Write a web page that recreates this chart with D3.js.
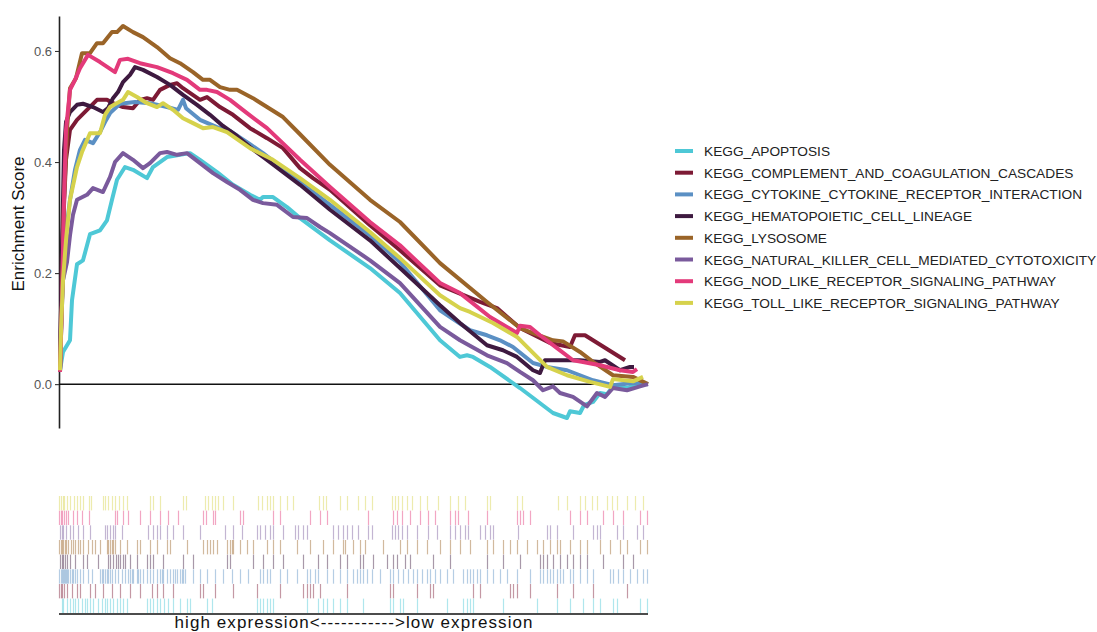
<!DOCTYPE html>
<html>
<head>
<meta charset="utf-8">
<script src="https://cdn.jsdelivr.net/npm/d3@7"></script>
<style>
  body { margin: 0; background: #fff; }
  svg { font-family: "Liberation Sans", Arial, Helvetica, sans-serif; }
</style>
</head>
<body>
<div id="chart"></div>
<script>
// GSEA multi-pathway enrichment plot: running score curves on top, hit rug below.

const pathways = [
  "KEGG_APOPTOSIS",
  "KEGG_COMPLEMENT_AND_COAGULATION_CASCADES",
  "KEGG_CYTOKINE_CYTOKINE_RECEPTOR_INTERACTION",
  "KEGG_HEMATOPOIETIC_CELL_LINEAGE",
  "KEGG_LYSOSOME",
  "KEGG_NATURAL_KILLER_CELL_MEDIATED_CYTOTOXICITY",
  "KEGG_NOD_LIKE_RECEPTOR_SIGNALING_PATHWAY",
  "KEGG_TOLL_LIKE_RECEPTOR_SIGNALING_PATHWAY"
];

const colors = ["#4ec8d6", "#7d1a35", "#5b90c4", "#3e1a40", "#9a6428", "#7a5a9c", "#e33a7a", "#d6d24c"];

const yTicks = [0.0, 0.2, 0.4, 0.6];
const rankMax = 589;

// running enrichment score, [rank, ES]
const esApoptosis = [[1,0.025],[4,0.058],[11,0.079],[13,0.151],[18,0.216],[24,0.223],[31,0.270],[41,0.277],[48,0.295],[53,0.332],[58,0.368],[66,0.391],[74,0.386],[88,0.371],[94,0.391],[108,0.409],[121,0.413],[131,0.416],[141,0.404],[158,0.382],[174,0.359],[191,0.341],[201,0.332],[204,0.337],[214,0.337],[228,0.319],[241,0.299],[271,0.259],[311,0.209],[341,0.164],[381,0.079],[401,0.049],[408,0.052],[414,0.049],[431,0.031],[461,-0.007],[494,-0.052],[508,-0.061],[511,-0.049],[521,-0.052],[525,-0.038],[534,-0.032],[541,-0.016],[548,-0.018],[554,-0.004],[568,-0.007],[581,0.002],[589,0]];
const esComplement = [[1,0.025],[3,0.241],[7,0.404],[11,0.458],[18,0.476],[28,0.494],[38,0.512],[48,0.512],[54,0.506],[64,0.499],[74,0.497],[81,0.512],[88,0.515],[94,0.512],[101,0.530],[111,0.539],[118,0.542],[124,0.533],[141,0.512],[148,0.517],[161,0.499],[174,0.485],[191,0.461],[208,0.443],[224,0.425],[241,0.389],[254,0.371],[271,0.350],[311,0.286],[341,0.241],[381,0.178],[421,0.148],[438,0.137],[461,0.101],[491,0.074],[511,0.067],[516,0.088],[526,0.088],[566,0.043]];
const esCytokine = [[1,0.022],[3,0.151],[6,0.259],[11,0.332],[16,0.386],[21,0.422],[26,0.440],[34,0.434],[41,0.454],[46,0.472],[51,0.488],[61,0.505],[76,0.508],[91,0.506],[108,0.499],[119,0.494],[124,0.512],[127,0.497],[141,0.476],[158,0.463],[171,0.456],[191,0.432],[204,0.416],[241,0.364],[271,0.323],[311,0.268],[341,0.220],[381,0.133],[411,0.097],[428,0.088],[441,0.079],[454,0.067],[474,0.038],[488,0.031],[508,0.025],[534,0.007],[554,-0.002],[574,0.002],[589,0]];
const esHemato = [[1,0.025],[3,0.241],[5,0.422],[7,0.472],[11,0.490],[18,0.503],[24,0.505],[34,0.499],[44,0.490],[49,0.497],[54,0.515],[59,0.526],[64,0.544],[71,0.557],[76,0.571],[84,0.566],[98,0.553],[111,0.539],[124,0.521],[138,0.503],[151,0.485],[164,0.465],[178,0.447],[191,0.427],[204,0.409],[241,0.359],[271,0.314],[311,0.259],[341,0.209],[381,0.142],[401,0.110],[428,0.070],[444,0.061],[458,0.049],[474,0.025],[481,0.020],[486,0.043],[508,0.043],[521,0.043],[541,0.040],[546,0.043],[561,0.025],[571,0.031],[575,0.031]];
const esLysosome = [[1,0.022],[3,0.151],[5,0.332],[8,0.458],[11,0.533],[17,0.551],[23,0.596],[31,0.596],[38,0.614],[44,0.614],[48,0.623],[53,0.634],[58,0.634],[64,0.645],[74,0.634],[84,0.625],[98,0.607],[111,0.587],[121,0.578],[134,0.562],[144,0.548],[151,0.548],[161,0.535],[171,0.530],[178,0.530],[194,0.515],[208,0.499],[224,0.481],[241,0.450],[271,0.395],[311,0.332],[341,0.292],[381,0.218],[428,0.148],[461,0.101],[474,0.092],[494,0.079],[504,0.077],[521,0.058],[534,0.040],[554,0.016],[574,0.013],[589,0]];
const esNK = [[1,0.022],[2,0.097],[4,0.187],[8,0.220],[11,0.268],[14,0.305],[18,0.332],[28,0.341],[34,0.353],[44,0.346],[51,0.373],[56,0.400],[64,0.416],[74,0.404],[84,0.389],[91,0.398],[101,0.416],[108,0.418],[118,0.413],[128,0.416],[141,0.398],[154,0.380],[168,0.364],[181,0.350],[194,0.332],[204,0.326],[218,0.323],[234,0.301],[248,0.299],[261,0.283],[271,0.272],[311,0.223],[341,0.182],[381,0.103],[401,0.079],[428,0.052],[448,0.038],[461,0.022],[474,0.007],[484,-0.011],[494,-0.004],[501,-0.016],[514,-0.023],[528,-0.040],[538,-0.016],[546,-0.023],[554,-0.007],[568,-0.011],[581,-0.004],[589,0]];
const esNOD = [[1,0.022],[3,0.151],[5,0.332],[7,0.458],[11,0.530],[16,0.548],[21,0.569],[29,0.593],[41,0.580],[56,0.562],[61,0.584],[69,0.586],[81,0.578],[98,0.571],[114,0.560],[128,0.548],[141,0.530],[148,0.530],[158,0.526],[171,0.512],[188,0.488],[208,0.461],[241,0.404],[271,0.355],[311,0.292],[341,0.250],[381,0.182],[401,0.164],[431,0.121],[458,0.092],[461,0.105],[471,0.103],[481,0.088],[498,0.065],[514,0.043],[524,0.040],[541,0.034],[561,0.025],[574,0.022],[578,0.027]];
const esToll = [[1,0.025],[2,0.097],[4,0.187],[7,0.259],[11,0.332],[18,0.391],[23,0.418],[31,0.452],[41,0.452],[46,0.485],[51,0.499],[64,0.512],[69,0.526],[78,0.517],[88,0.506],[98,0.499],[104,0.506],[114,0.494],[124,0.479],[134,0.470],[144,0.461],[154,0.463],[168,0.454],[191,0.425],[214,0.404],[241,0.371],[271,0.332],[311,0.274],[341,0.227],[381,0.160],[401,0.137],[411,0.130],[434,0.110],[458,0.085],[468,0.067],[488,0.031],[508,0.016],[531,0.004],[551,-0.005],[554,0.009],[574,0.005],[584,0.013]];

// gene set hit positions (ranks) for the rug
const hitsApoptosis = [3,4,8,11,14,16,19,23,26,28,31,34,39,43,46,48,51,54,58,61,64,68,88,91,94,98,101,105,109,114,121,128,131,148,153,198,201,204,208,211,214,248,259,264,268,274,281,288,304,331,334,341,344,358,388,404,408,411,414,444,478,498,511,524,534,541,554,558,581,588];
const hitsComplement = [0,2,3,5,8,13,18,21,31,36,44,53,61,71,81,93,98,104,114,141,144,156,174,198,221,244,248,251,254,261,288,331,334,358,371,374,414,421,451,454,458,471,498,514,534,568];
const hitsCytokine = [0,2,3,4,5,6,7,8,9,11,13,14,16,18,21,24,29,33,41,43,44,46,48,49,51,53,56,59,63,66,69,71,73,74,78,79,81,84,88,91,94,98,101,103,104,108,111,114,116,118,121,123,124,126,134,141,148,156,164,173,181,189,201,204,208,211,221,228,238,248,251,256,259,268,274,281,288,294,298,301,304,308,313,321,331,334,339,344,349,354,358,363,368,371,376,381,388,394,404,408,411,414,418,421,428,434,441,448,458,471,481,484,488,491,494,498,501,504,511,514,521,528,534,551,554,559,564,571,578,584,588];
const hitsHemato = [1,3,4,6,8,11,16,24,28,39,49,51,54,57,59,61,64,66,71,78,88,91,94,104,124,134,168,171,194,204,214,224,244,259,268,281,288,301,304,314,328,334,338,346,351,374,391,428,444,461,481,484,488,494,501,508,514,521,528,544,564,574];
const hitsLysosome = [0,2,3,4,6,7,9,12,14,16,19,21,24,29,33,36,41,48,49,51,53,54,56,61,68,78,81,91,98,108,111,128,144,148,151,154,158,168,171,173,174,181,188,194,208,214,221,238,251,264,274,284,286,294,301,306,324,341,348,358,368,381,391,401,411,428,434,444,451,458,468,478,484,491,498,501,511,521,528,541,551,561,568,581,588];
const hitsNK = [1,3,4,7,11,14,19,24,31,46,48,51,54,56,63,89,94,98,101,108,114,124,141,166,174,183,198,201,206,211,214,224,236,239,244,248,274,279,284,288,293,299,309,313,333,336,339,343,348,358,369,378,391,396,401,406,409,421,426,431,434,459,488,491,498,514,534,538,541,558,564,578,584];
const hitsNOD = [0,2,3,5,7,9,14,18,23,30,56,58,64,69,81,91,101,109,119,144,147,154,156,181,184,214,221,251,261,268,309,334,338,343,351,361,369,376,391,396,399,409,428,458,461,464,471,511,521,528,544,554,564,581,588];
const hitsToll = [0,2,4,5,8,11,15,18,21,24,30,32,44,46,49,53,56,60,64,68,91,94,101,124,127,146,149,153,156,159,164,174,199,203,208,211,214,221,228,234,260,264,267,281,288,299,306,313,333,336,339,343,348,353,361,368,379,391,399,406,428,431,458,463,499,508,521,526,533,538,548,553,558,568,576,584];

const esSeries = [esApoptosis, esComplement, esCytokine, esHemato, esLysosome, esNK, esNOD, esToll];
const hitSeries = [hitsApoptosis, hitsComplement, hitsCytokine, hitsHemato, hitsLysosome, hitsNK, hitsNOD, hitsToll];

const sets = pathways.map((name, i) => ({ name, color: colors[i], es: esSeries[i], hits: hitSeries[i] }));

// Layout
const width = 1097, height = 632;
const plot = { left: 59, right: 648, top: 16, bottom: 428 };
const rug = { top: 496, bottom: 613 };

const svg = d3.select("#chart")
  .append("svg")
  .attr("width", width)
  .attr("height", height);

// Scales
const x = d3.scaleLinear()
  .domain([0, rankMax])
  .range([plot.left, plot.right]);

const y = d3.scaleLinear()
  .domain([-0.079, 0.663])
  .range([plot.bottom, plot.top]);

const color = d3.scaleOrdinal()
  .domain(pathways)
  .range(colors);

// Y axis
const yAxis = svg.append("g")
  .attr("transform", `translate(${plot.left},0)`)
  .call(d3.axisLeft(y).tickValues(yTicks).tickFormat(d3.format(".1f")).tickSize(4).tickSizeOuter(0));

yAxis.select(".domain").attr("stroke", "#222").attr("stroke-width", 1.6);
yAxis.selectAll(".tick line").attr("stroke", "#333").attr("stroke-width", 1.1);
yAxis.selectAll(".tick text")
  .attr("fill", "#555")
  .style("font-size", "13px")
  .attr("x", -7);

svg.append("text")
  .attr("transform", `translate(24,${(plot.top + plot.bottom) / 2 + 2}) rotate(-90)`)
  .attr("text-anchor", "middle")
  .style("font-size", "17px")
  .attr("fill", "#111")
  .text("Enrichment Score");

// Zero line
svg.append("line")
  .attr("x1", x(0)).attr("x2", x(rankMax))
  .attr("y1", y(0)).attr("y2", y(0))
  .attr("stroke", "#111")
  .attr("stroke-width", 1.5);

// Running score lines
const line = d3.line()
  .x(d => x(d[0]))
  .y(d => y(d[1]));

svg.append("g")
  .selectAll("path")
  .data(sets)
  .enter()
  .append("path")
  .attr("fill", "none")
  .attr("stroke", d => color(d.name))
  .attr("stroke-width", 4)
  .attr("stroke-linejoin", "round")
  .attr("d", d => line(d.es));

// Rug of hits: last pathway on top row
const band = d3.scaleBand()
  .domain(pathways.slice().reverse())
  .range([rug.top, rug.bottom])
  .paddingInner(0.02);

sets.forEach(s => {
  svg.append("g")
    .selectAll("line")
    .data(s.hits)
    .enter()
    .append("line")
    .attr("x1", d => x(d) + 0.5)
    .attr("x2", d => x(d) + 0.5)
    .attr("y1", band(s.name))
    .attr("y2", band(s.name) + band.bandwidth())
    .attr("stroke", s.color)
    .attr("stroke-opacity", 0.45)
    .attr("stroke-width", 1.2);
});

// Rug baseline
svg.append("line")
  .attr("x1", x(0)).attr("x2", x(rankMax))
  .attr("y1", rug.bottom + 1).attr("y2", rug.bottom + 1)
  .attr("stroke", "#111")
  .attr("stroke-width", 1.6);

svg.append("text")
  .attr("x", (x(0) + x(rankMax)) / 2)
  .attr("y", 628)
  .attr("text-anchor", "middle")
  .style("font-size", "17px")
  .attr("textLength", 358)
  .attr("fill", "#111")
  .text("high expression<----------->low expression");

// Legend
const legend = svg.append("g")
  .attr("transform", "translate(675,151)");

sets.forEach((s, i) => {
  const row = legend.append("g")
    .attr("transform", `translate(0,${i * 21.7})`);

  row.append("line")
    .attr("x1", 0).attr("x2", 18)
    .attr("y1", 0).attr("y2", 0)
    .attr("stroke", s.color)
    .attr("stroke-width", 4);

  row.append("text")
    .attr("x", 29)
    .attr("y", 5)
    .style("font-size", "13.7px")
    .attr("fill", "#222")
    .text(s.name);
});
</script>
</body>
</html>
